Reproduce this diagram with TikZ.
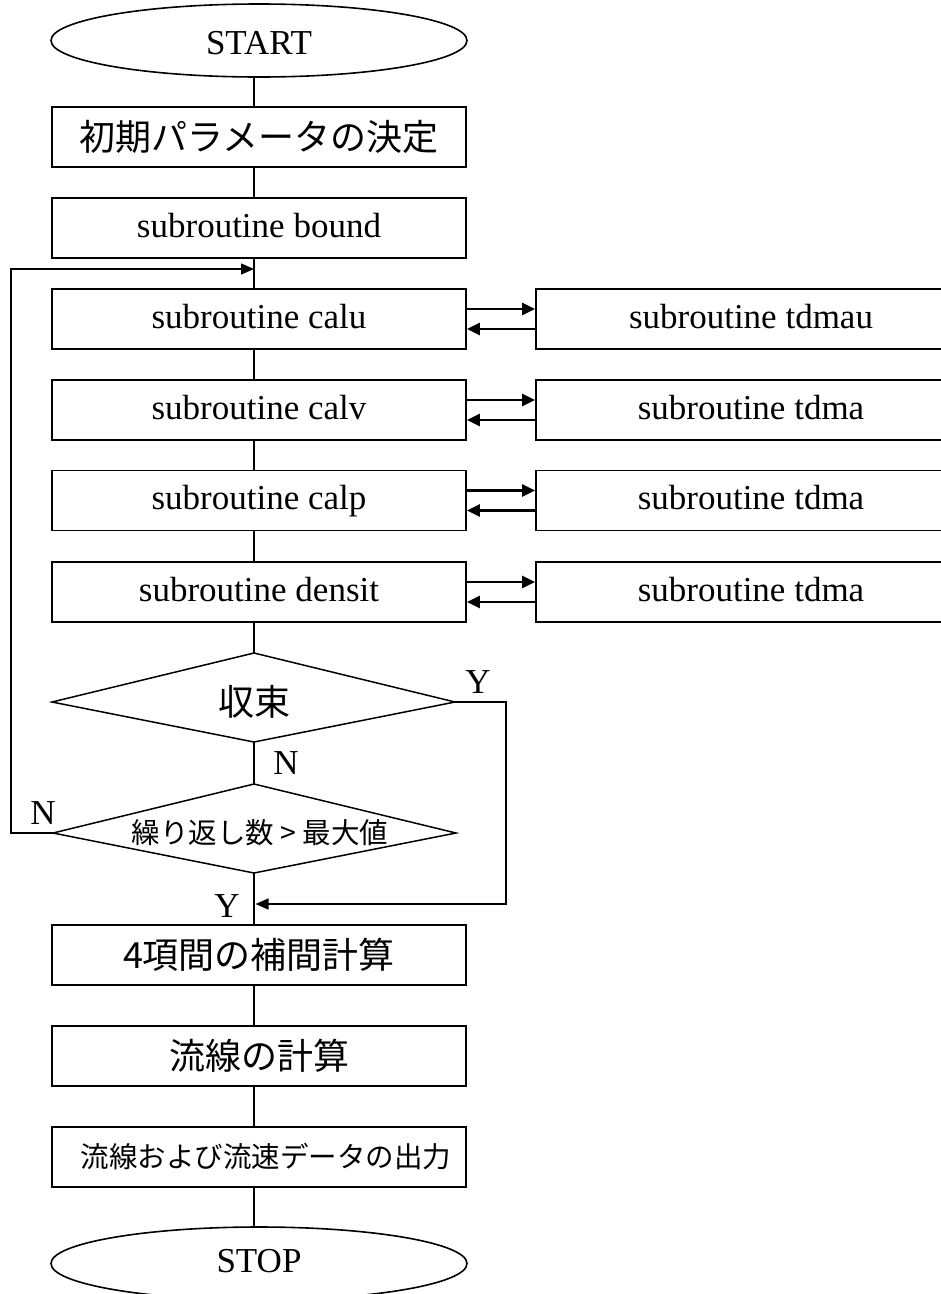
\documentclass[tikz,border=0pt]{standalone}
\usepackage{fontspec}
\setmainfont{Liberation Serif}
\newfontfamily\jp{Noto Sans CJK JP}
\usetikzlibrary{shapes.geometric,arrows.meta}
\begin{document}
\begin{tikzpicture}[x=1pt,y=-1pt,
  every node/.style={font=\fontsize{35}{40}\selectfont},
  ser/.style={text height=25pt,text depth=7pt},
  jpt/.style={font=\jp\fontsize{36}{40}\selectfont},
  jps/.style={font=\jp\fontsize{28.5}{34}\selectfont},
  term/.style={ellipse,draw,line width=1.6pt,minimum width=416pt,minimum height=73pt,inner sep=0pt},
  proc/.style={rectangle,draw,line width=1.8pt,minimum width=414pt,minimum height=60pt,inner sep=0pt},
  sub/.style={rectangle,draw,line width=1.8pt,minimum width=430pt,minimum height=60pt,inner sep=0pt},
  hold/.style={rectangle,inner sep=0pt,minimum size=0pt},
  decline/.style={line width=1.5pt,line join=miter},
  conn/.style={line width=1.4pt},
  arr/.style={line width=1.4pt,-{Triangle[length=13pt,width=11pt]}},
  sarr/.style={line width=2.4pt,-{Triangle[length=13pt,width=12pt]}},
  lab/.style={inner sep=0pt,font=\fontsize{35}{40}\selectfont}
]
\useasboundingbox (0,0) rectangle (941,1294);
\clip (0,0) rectangle (941,1294);
\coordinate (spine) at (254,0);
\node[term,text height=28pt,text depth=0pt] (start) at (259,40.5) {START};
\node[proc,jpt] (init) at (259,137) {初期パラメータの決定};
\node[proc,ser] (bound) at (259,228) {subroutine bound};
\node[proc,ser] (calu) at (259,319) {subroutine calu};
\node[proc,ser] (calv) at (259,410) {subroutine calv};
\node[proc,ser] (calp) at (259,500.5) {subroutine calp};
\node[proc,ser] (densit) at (259,592) {subroutine densit};
\node[sub,ser] (tdmau) at (751,319) {subroutine tdmau};
\node[sub,ser] (tdma1) at (751,410) {subroutine tdma};
\node[sub,ser] (tdma2) at (751,500.5) {subroutine tdma};
\node[sub,ser] (tdma3) at (751,592) {subroutine tdma};
% decision 1
\node[hold] (dec1) at (254,702) {};
\coordinate (d1n) at (254,653);
\coordinate (d1s) at (254,742);
\coordinate (d1w) at (52,702);
\coordinate (d1e) at (455,702);
\draw[decline] (d1n) -- (d1e) -- (d1s) -- (d1w) -- cycle;
\node[jpt,inner sep=0pt] (dec1t) at (dec1) {収束};
% decision 2
\node[hold] (dec2) at (254,833) {};
\coordinate (d2n) at (254,784);
\coordinate (d2s) at (254,873);
\coordinate (d2w) at (53,833);
\coordinate (d2e) at (456,833);
\draw[decline] (d2n) -- (d2e) -- (d2s) -- (d2w) -- cycle;
\node[jps,inner sep=0pt] (dec2t) at ([xshift=6pt]dec2) {繰り返し数 > 最大値};
\node[proc,jpt] (interp) at (259,955) {4項間の補間計算};
\node[proc,jpt] (flow) at (259,1056) {流線の計算};
\node[proc] (out) at (259,1157) {};
\node[jps,inner sep=0pt] (outt) at ([xshift=7pt]out) {流線および流速データの出力};
\node[term,ser] (stop) at (259,1263.5) {STOP};
\coordinate (loopin) at (254,269);
\coordinate (yin) at (255.5,904);
% spine
\draw[conn] (start.south -| spine) -- (init.north -| spine);
\draw[conn] (init.south -| spine) -- (bound.north -| spine);
\draw[conn] (bound.south -| spine) -- (calu.north -| spine);
\draw[conn] (calu.south -| spine) -- (calv.north -| spine);
\draw[conn] (calv.south -| spine) -- (calp.north -| spine);
\draw[conn] (calp.south -| spine) -- (densit.north -| spine);
\draw[conn] (densit.south -| spine) -- (d1n);
\draw[conn] (d1s) -- (d2n);
\draw[conn] (d2s) -- (interp.north -| spine);
\draw[conn] (interp.south -| spine) -- (flow.north -| spine);
\draw[conn] (flow.south -| spine) -- (out.north -| spine);
\draw[conn] (out.south -| spine) -- (stop.north -| spine);
% loops
\draw[arr] (d2w) -- ++(-42,0) |- (loopin);
\draw[arr] (d1e) -- ++(51,0) |- (yin);
% side calls
\foreach \a/\b in {calu/tdmau,calv/tdma1,calp/tdma2,densit/tdma3}{
  \draw[sarr] ([yshift=10pt]\a.east) -- ([yshift=10pt]\b.west);
  \draw[sarr] ([yshift=-10pt]\b.west) -- ([yshift=-10pt]\a.east);
}
% labels
\node[lab] (ly1) at (478,682) {Y};
\node[lab] (ln1) at (286,763) {N};
\node[lab] (ln2) at (43,813) {N};
\node[lab] (ly2) at (227,906) {Y};
\end{tikzpicture}
\end{document}
